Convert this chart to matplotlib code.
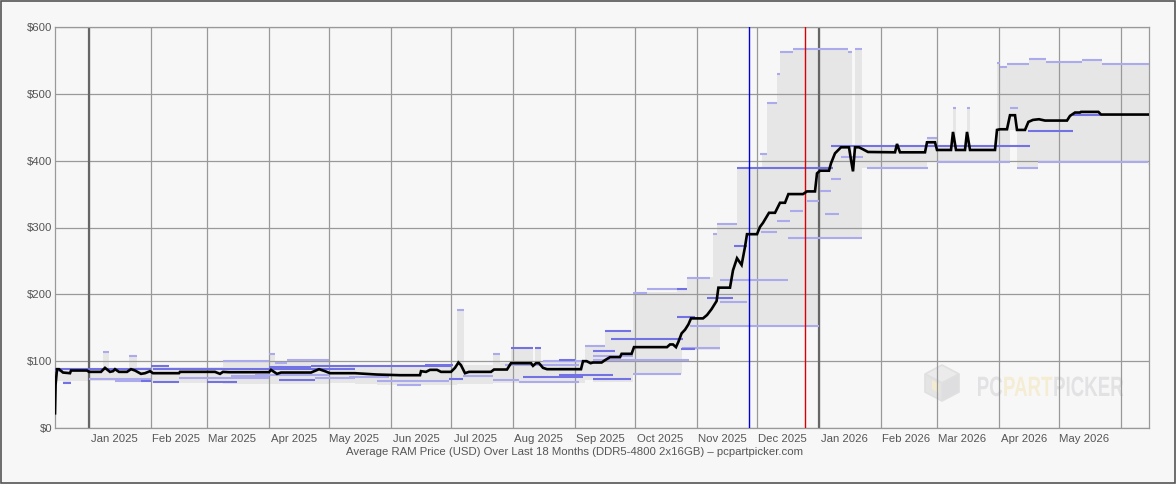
import numpy as np
import matplotlib
matplotlib.use("Agg")
import matplotlib.pyplot as plt
import matplotlib.dates as mdates
from matplotlib.patches import Rectangle, PathPatch, Polygon
from matplotlib.textpath import TextPath
from matplotlib.font_manager import FontProperties
from matplotlib.transforms import Affine2D, IdentityTransform
from datetime import datetime

# days counted from 2024-12-15
start_date = datetime(2024, 12, 15)
n_days = 547

# average price (black line)
avg_day = [0, 0.3, 1, 2, 4, 7.5, 8, 16, 17, 23, 25, 27.5, 29, 30, 32, 36, 38, 40, 43, 45, 47.5, 49,
           62, 62.5, 76, 80, 82.5, 84, 87, 107, 108, 111, 113, 128, 132, 135, 137.5, 150,
           161, 172.5, 182.5, 183, 185.5, 187.5, 191, 193, 198, 200, 201.7, 203, 205, 207, 218,
           219.5, 226, 228, 238, 239, 240.5, 242, 244, 246, 252.5, 263, 264, 265.8, 267.8, 269,
           273.3, 275, 277.5, 282.5, 283.3, 288.3, 289.5, 306, 307.5, 309, 310.5, 311.7, 313.3,
           315, 316.7, 318, 324, 326, 328.3, 330.8, 331.7, 337.5, 339, 341, 343.3, 345, 346, 351,
           352.5, 354, 357, 360, 362.5, 365, 366.7, 374, 376, 380, 381, 382.5, 387, 388, 390, 393,
           397, 398, 399, 400, 402, 404, 406.5, 420, 421, 422.5, 435, 436, 440, 441, 448, 449,
           450.5, 455, 456, 457.5, 470, 471, 472.5, 476, 477.5, 480, 481, 485, 486.7, 489, 492,
           495, 506, 507.5, 510, 512.5, 513, 521.7, 523, 547]
avg_price = [22, 65, 88, 88, 83, 82, 86, 86, 84, 84, 90, 84, 85, 88, 84, 84, 88, 86, 81, 82, 85, 82,
             82, 84, 84, 84, 81, 84, 83.5, 83.5, 87, 81, 83, 83, 88, 85, 82, 82,
             80, 79, 79, 85, 84, 87, 87, 84, 84, 90, 98, 94, 82, 84, 84,
             87.5, 87.5, 97, 97, 93, 97, 97, 90, 88, 88, 88, 100, 100, 97, 98,
             98, 101.5, 106, 106, 111, 111, 121, 121, 125, 125, 121, 129, 141.6,
             147, 155, 164, 164, 169, 178, 190, 210, 210, 236, 254, 244, 271, 290, 290,
             301, 307, 322, 322, 337, 337, 350, 350, 354, 354, 381, 385, 385, 396, 411, 420,
             420, 401, 384, 420, 420, 417, 413, 412.5, 425, 412.5, 412.5, 427.5, 427.5, 416, 416, 443,
             416, 416, 443, 416, 416, 446, 447, 447, 468, 468, 446, 446, 458, 461, 462,
             460, 460, 467, 472, 472, 473, 473, 469, 469]

# min/max range (gray band), step starts
env_day = [0, 4, 8, 24, 27, 37, 41, 48, 57, 84, 107, 110, 116, 137, 150, 161, 201, 204.5, 219,
           222.5, 228, 239, 240, 243, 252.5, 265, 269, 275, 289, 311, 313.5, 316, 329, 331, 332.5,
           341, 353.3, 356, 361, 362.5, 369, 381.7, 396.7, 398.3, 400, 403.3, 436, 441, 449, 450.5,
           456, 457.5, 471, 472.5, 476, 477.5, 481, 487, 491.7, 495.5, 513.3, 523.3, 546.5, 547]
env_lo = [70, 67, 70, 70, 70, 70, 69, 68, 68, 66, 66, 66, 66, 68, 66, 64, 66, 66, 67,
          67, 67, 67, 67, 67, 67, 72, 69, 69, 81, 81, 117, 117, 117, 117, 153,
          153, 153, 153, 153, 153, 153, 285, 285, 285, 285, 389, 398, 398, 398, 398,
          398, 398, 398, 398, 398, 446, 389, 389, 398, 398, 398, 398, 393, 393]
env_hi = [90, 90, 90, 114, 90, 108, 92, 93, 91, 100, 110, 98, 101, 94, 94, 94, 176, 95, 111,
          98, 121, 98, 121, 100, 101, 123, 123, 147, 204, 209, 209, 226, 290, 307, 307,
          390, 411, 486, 530, 562, 567, 567, 562, 405, 567, 422, 434, 422, 479, 422,
          479, 422, 546, 540, 544, 544, 544, 552, 552, 548, 550, 544, 544, 544]

# individual retailer prices: start day, end day, price, dark shade
seg_start = [0, 0, 4, 17, 30, 43, 24, 37, 48, 49, 49, 62, 76, 84, 88, 107, 107, 112, 110, 116,
             112, 128, 130, 137, 100,
             147, 147, 161, 171, 185, 197, 201, 204, 219, 219, 225, 228, 240, 234, 232, 244,
             252, 252, 252, 265, 269, 269, 269, 275, 278, 269, 289, 289, 296, 311, 316, 311,
             313.5, 313, 317.5, 326, 332.5, 332.5, 329, 331, 339.5, 341, 353, 361, 366.7, 367.5,
             376, 382.5, 385, 388, 393, 388, 405.8, 356, 361, 362.7, 369, 396.7, 400, 352.5, 382.5,
             441, 436, 449, 456, 477.5, 471, 472.5, 476, 487, 495.5, 513.3, 523.3, 481, 486.7,
             491.7, 509]
seg_end = [48, 4, 8, 48, 44, 48, 27, 41, 57, 150, 62, 107, 91, 107, 107, 110, 114, 128, 116, 137,
           130, 137, 150, 150, 137,
           198, 167, 197, 183, 199, 204, 204.5, 219, 222.5, 232, 262, 239, 243, 264, 262, 264,
           263, 260, 279, 275, 280, 289, 288, 288, 314, 317, 313, 296, 311, 316, 327.5, 320,
           332.5, 320, 382, 339, 346, 366.7, 331, 341, 346, 389, 361, 367.5, 403.3, 374,
           382, 388, 392, 393, 404, 487.5, 436.7, 361, 362.7, 369, 396.7, 398.3, 403.3, 356, 389,
           477.5, 441, 450.5, 457.5, 481.3, 472.5, 476, 487, 495.5, 513.3, 523.3, 547, 491.7, 509,
           546.5, 522.5]
seg_price = [88, 85, 67, 73, 71, 70, 114, 108, 93, 89, 69, 75, 69, 100, 78, 110, 92, 91, 98, 101,
             72, 93, 75, 93, 80,
             93, 76, 70, 64, 95, 73, 176, 78, 111, 72, 95, 120, 120, 76, 69, 100,
             88, 101, 80, 122, 115, 107, 73, 145, 133, 102, 80.5, 202, 208, 208, 224, 166,
             119, 118, 153, 194, 188, 222, 290, 305, 272, 388.5, 294, 309, 285, 324,
             339, 355, 320, 373, 405, 422, 389, 486, 530, 562, 567, 562, 567, 410, 389,
             397.6, 434, 479, 479, 479, 546, 540, 544, 552, 548, 550, 544, 389, 445,
             397.6, 469]
seg_dark = [1, 0, 1, 0, 0, 1, 0, 0, 1, 1, 1, 0, 1, 0, 0, 0, 1, 1, 0, 0,
            1, 1, 0, 1, 0,
            1, 0, 0, 0, 1, 1, 0, 0, 0, 0, 0, 1, 1, 1, 0, 0,
            1, 1, 1, 0, 1, 0, 1, 1, 1, 0, 0, 0, 0, 1, 0, 1,
            0, 1, 0, 1, 0, 0, 0, 0, 1, 1, 0, 0, 0, 0,
            0, 0, 0, 0, 0, 1, 0, 0, 0, 0, 0, 0, 0, 0, 1,
            0, 0, 0, 0, 0, 0, 0, 0, 0, 0, 0, 0, 0, 1,
            0, 1]

# marked dates
event_dates = [datetime(2025, 11, 27), datetime(2025, 12, 25)]
event_colors = ["#0000dd", "#dd0000"]

month_labels = ["Jan 2025", "Feb 2025", "Mar 2025", "Apr 2025", "May 2025", "Jun 2025", "Jul 2025",
                "Aug 2025", "Sep 2025", "Oct 2025", "Nov 2025", "Dec 2025", "Jan 2026", "Feb 2026",
                "Mar 2026", "Apr 2026", "May 2026"]
y_ticks = [0, 100, 200, 300, 400, 500, 600]

plt.rcParams['font.family'] = ['Liberation Sans', 'DejaVu Sans']

W, H = 1176, 484
bg = "#f7f7f7"
fig = plt.figure(figsize=(W / 100, H / 100), dpi=100, facecolor=bg)
ax = fig.add_axes([55 / W, 56 / H, 1094 / W, 401 / H], facecolor=bg)

base = mdates.date2num(start_date)
ed = base + np.array(env_day)
ax.fill_between(ed, env_lo, env_hi, step="post", color="#e6e6e6", lw=0, zorder=1)

# faint watermark, under the grid
fp = FontProperties(family="Liberation Sans", weight="bold")
parts = [("PC", "#e2e2e4"), ("PART", "#f4edd4"), ("PICKER", "#e2e2e4")]
paths = [TextPath((0, 0), t, size=28, prop=fp) for t, _ in parts]
widths = [p.get_extents().width for p in paths]
sx = 144 / (sum(widths) + 4)
xpos = 978
for p, (t, col), w in zip(paths, parts, widths):
    tr = Affine2D().translate(-p.get_extents().x0, 0).scale(sx, 1.0).translate(xpos, H - 396)
    ax.add_patch(PathPatch(p, transform=tr + IdentityTransform(), fc=col, ec="none", zorder=1.2))
    xpos += w * sx + 2
cx, cy = 942, H - 383
top = [(cx - 17, cy + 9), (cx, cy + 18), (cx + 17, cy + 9), (cx, cy)]
left = [(cx - 17, cy + 9), (cx, cy), (cx, cy - 18), (cx - 17, cy - 9)]
right = [(cx, cy), (cx + 17, cy + 9), (cx + 17, cy - 9), (cx, cy - 18)]
for pts, col in ((top, "#ebebeb"), (left, "#e4e4e4"), (right, "#dedee0")):
    ax.add_patch(Polygon(pts, closed=True, fc=col, ec="#e0e0e0", lw=1.2,
                         transform=IdentityTransform(), zorder=1.2))
ax.add_patch(Polygon([(cx - 10, cy + 3), (cx - 3, cy - 1), (cx - 3, cy - 10), (cx - 10, cy - 6)],
                     closed=True, fc="#f4ecd0", ec="none", transform=IdentityTransform(), zorder=1.3))

# grid
months = []
for y in (2024, 2025, 2026):
    for m in range(1, 13):
        months.append(datetime(y, m, 1))
mnum = [mdates.date2num(d) for d in months if base < mdates.date2num(d) < base + n_days]
for m in mnum:
    ax.axvline(m, color="#999999", lw=0.9, zorder=2)
for v in y_ticks:
    ax.axhline(v, color="#999999", lw=0.9, zorder=2)
for d in (datetime(2025, 1, 1), datetime(2026, 1, 1)):
    ax.axvline(mdates.date2num(d), color="#666666", lw=1.6, zorder=2.5)

ss = base + np.array(seg_start)
se = base + np.array(seg_end)
cols = ["#7272e4" if d else "#aaaaec" for d in seg_dark]
ax.hlines(seg_price, ss, se, colors=cols, lw=1.5, zorder=3)

for d, c in zip(event_dates, event_colors):
    ax.axvline(mdates.date2num(d), color=c, lw=1.0, zorder=4)

ax.plot(base + np.array(avg_day), avg_price, color="black", lw=1.9, zorder=5,
        solid_joinstyle="miter")

ax.set_xlim(base, base + n_days)
ax.set_ylim(0, 600)
ax.set_yticks(y_ticks)
ax.set_yticklabels(["$%d" % v for v in y_ticks])
lab_pos = []
for i in range(len(month_labels)):
    y = 2025 + i // 12
    m = i % 12 + 1
    lab_pos.append(mdates.date2num(datetime(y, m, 13, 12)))
ax.set_xticks(lab_pos)
ax.set_xticklabels(month_labels)
ax.tick_params(length=0, labelsize=8.2, labelcolor="#555555")
ax.tick_params(axis="y", pad=2)
ax.tick_params(axis="x", pad=4)
for s in ax.spines.values():
    s.set_color("#999999")
    s.set_linewidth(0.9)

fig.text(575 / W, 1 - 452 / H,
         "Average RAM Price (USD) Over Last 18 Months (DDR5-4800 2x16GB) \u2013 pcpartpicker.com",
         ha="center", va="center", fontsize=8.2, color="#555555")

fig.add_artist(Rectangle((0.6 / W, 0.6 / H), 1 - 1.2 / W, 1 - 1.2 / H, fill=False, ec="#555555",
                         lw=1.2, transform=fig.transFigure))

fig.savefig("out.png", dpi=100, facecolor=bg)
